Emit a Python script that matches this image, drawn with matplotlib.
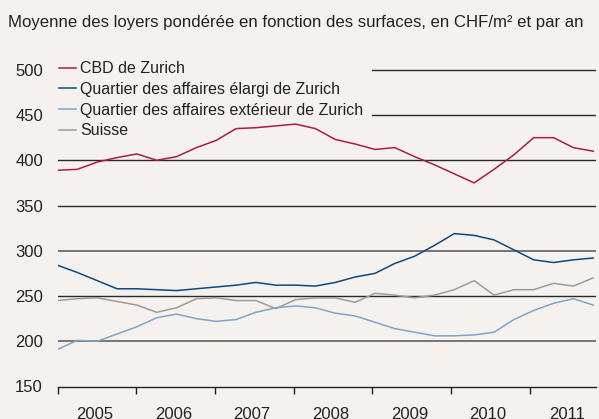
import numpy as np
import matplotlib
matplotlib.use("Agg")
import matplotlib.pyplot as plt

plt.rcParams['font.family'] = ['Liberation Sans', 'DejaVu Sans']

title = "Moyenne des loyers pondérée en fonction des surfaces, en CHF/m² et par an"
years = ["2005", "2006", "2007", "2008", "2009", "2010", "2011"]
yticks = [150, 200, 250, 300, 350, 400, 450, 500]

series_names = ["CBD de Zurich",
                "Quartier des affaires élargi de Zurich",
                "Quartier des affaires extérieur de Zurich",
                "Suisse"]

cbd = [389, 390, 398, 403, 407, 400, 404, 414, 422, 435, 436, 438, 440, 435,
       423, 418, 412, 414, 404, 395, 385, 375, 390, 406, 425, 425, 414, 410]
elargi = [284, 276, 267, 258, 258, 257, 256, 258, 260, 262, 265, 262, 262, 261,
          265, 271, 275, 286, 294, 306, 319, 317, 312, 301, 290, 287, 290, 292]
exterieur = [191, 201, 200, 208, 216, 226, 230, 225, 222, 224, 232, 237, 239, 237,
             231, 228, 221, 214, 210, 206, 206, 207, 210, 224, 234, 242, 247, 240]
suisse = [245, 247, 248, 244, 240, 232, 237, 247, 248, 245, 245, 236, 246, 248,
          248, 243, 253, 251, 248, 251, 257, 267, 251, 257, 257, 264, 261, 270]

colors = ["#b01a44", "#0d4a80", "#7ea5c8", "#a39a92"]
bg = "#f4f1ee"

W, H = 599, 419
fig = plt.figure(figsize=(W / 100, H / 100), dpi=100, facecolor=bg)
left, right = 57.5 / W, 596 / W
bottom = (H - 386.5) / H
top = (H - 60.75) / H
ax = fig.add_axes([left, bottom, right - left, top - bottom], facecolor=bg)

x = np.arange(len(cbd))
ax.set_xlim(0.01, 27.14)
ax.set_ylim(150, 510)

# gridlines
legend_end = (372 - 57.5) / (596 - 57.5)
for v in [200, 250, 300, 350, 400, 450, 500]:
    if v in (200, 300):
        c, lw = "#6f6a66", 1.3
    else:
        c, lw = "#2a2a2a", 1.0
    xmin = legend_end if v >= 450 else 0
    ax.axhline(v, xmin=xmin, xmax=1, color=c, lw=lw, zorder=1)

for data, name, col in zip([cbd, elargi, exterieur, suisse], series_names, colors):
    ax.plot(x, data, color=col, lw=1.1, label=name, zorder=3)

for s in ["top", "right", "left"]:
    ax.spines[s].set_visible(False)
ax.spines["bottom"].set_color("#222222")
ax.spines["bottom"].set_linewidth(1.0)

ax.set_yticks(yticks)
ax.set_yticklabels([str(v) for v in yticks])
ax.tick_params(axis="y", length=0, pad=10.5, labelsize=12, labelcolor="#222222")

year_edges = np.arange(len(years)) * 3.965
ax.set_xticks(year_edges)
ax.set_xticklabels([])
ax.set_xticks(year_edges + 1.88, minor=True)
ax.set_xticklabels(years, minor=True)
ax.tick_params(axis="x", which="major", length=5, width=1.0, color="#222222", direction="out")
ax.tick_params(axis="x", which="minor", length=0, pad=15, labelsize=12, labelcolor="#222222")

fig.text(8 / W, 1 - 22 / H, title, fontsize=12.1, color="#222222", va="center", ha="left")

leg = ax.legend(loc="upper left", bbox_to_anchor=(-0.003, 1.008), frameon=False,
                fontsize=11.5, handlelength=1.05, handletextpad=0.25,
                labelspacing=0.35, borderpad=0.2, borderaxespad=0.0)
for t in leg.get_texts():
    t.set_color("#222222")

fig.savefig("out.png", dpi=100, facecolor=bg)
